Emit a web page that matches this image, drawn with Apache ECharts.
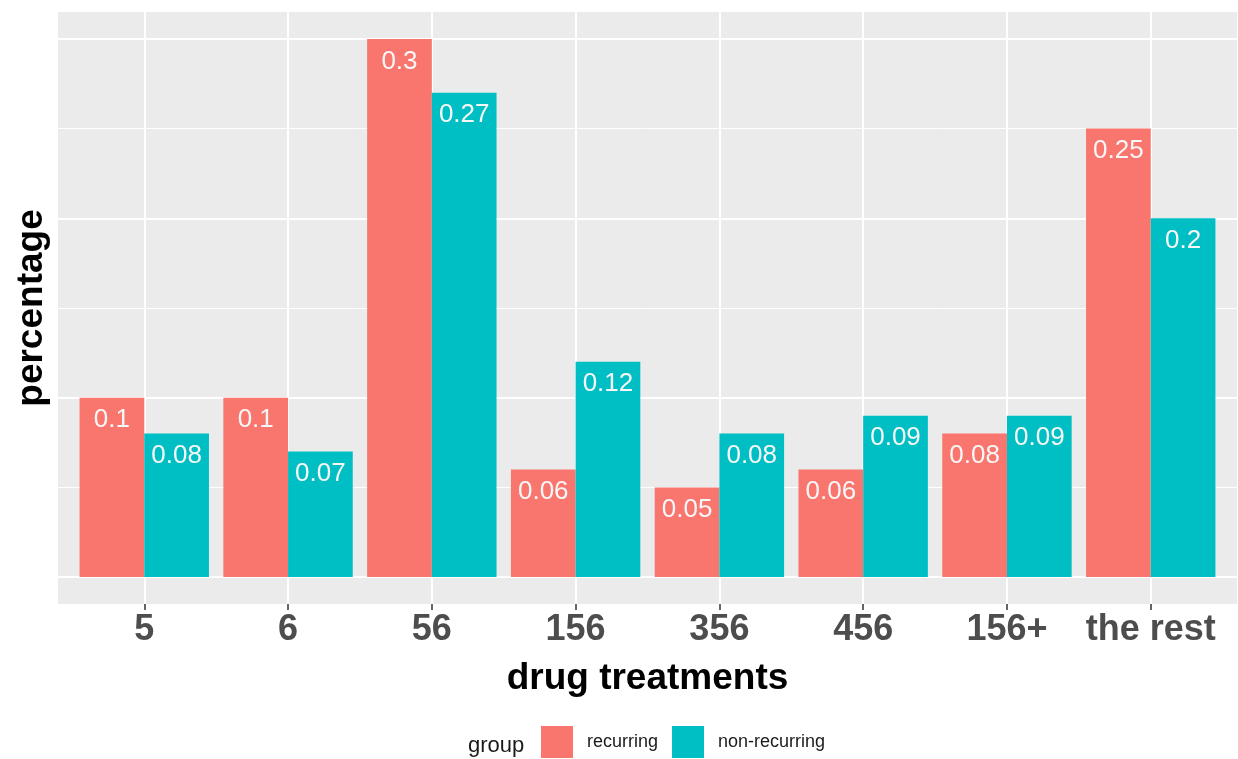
<!DOCTYPE html>
<html>
<head>
<meta charset="utf-8">
<script src="https://cdn.jsdelivr.net/npm/echarts@6/dist/echarts.min.js"></script>
<style>html,body{margin:0;padding:0;background:#fff;}#c{width:1238px;height:759px;}</style>
</head>
<body>
<div id="c"></div>
<script>
const categories = ['5', '6', '56', '156', '356', '456', '156+', 'the rest'];
const recurring = [0.1, 0.1, 0.3, 0.06, 0.05, 0.06, 0.08, 0.25];
const nonRecurring = [0.08, 0.07, 0.27, 0.12, 0.08, 0.09, 0.09, 0.2];
const seriesNames = ['recurring', 'non-recurring'];
const colors = ['#F8766D', '#00BFC4'];
const yMajorInterval = 0.1;
const yMax = 0.3;

// panel geometry (ggplot-style expansion)
const W = 1238, H = 759;
const pL = 58, pR = 1237, pT = 12, pB = 604;
const yLo = -0.015, yHi = 0.315;
const xLo = 0.4, xHi = categories.length + 0.6;
const Y = v => pT + (yHi - v) / (yHi - yLo) * (pB - pT);
const X = k => pL + (k - xLo) / (xHi - xLo) * (pR - pL);

const font = 'Liberation Sans, Arial, Helvetica, sans-serif';
const chart = echarts.init(document.getElementById('c'), null, {renderer: 'canvas'});
const hidden = {axisLine: {show: false, onZero: false}, axisTick: {show: false}, axisLabel: {show: false}, splitLine: {show: false}};

chart.setOption({
  animation: false,
  backgroundColor: '#ffffff',
  grid: [
    {left: pL, right: W - pR, top: pT, bottom: H - pB, show: true, backgroundColor: '#EBEBEB', borderWidth: 0},
    {left: pL, right: W - pR, top: Y(yMax), bottom: H - Y(0), show: false},
    {left: X(1), right: W - X(categories.length), top: pT, bottom: H - pB, show: false},
    {left: X(0.5), right: W - X(categories.length + 0.5), top: pT, bottom: H - pB, show: false}
  ],
  xAxis: [
    Object.assign({type: 'value', gridIndex: 0, min: 0, max: 1}, hidden),
    Object.assign({type: 'value', gridIndex: 1, min: 0, max: 1}, hidden),
    {type: 'value', gridIndex: 2, min: 1, max: categories.length, interval: 1,
      axisLine: {show: false, onZero: false}, axisTick: {show: false}, axisLabel: {show: false},
      splitLine: {show: true, lineStyle: {color: '#FFFFFF', width: 2}}},
    {type: 'category', gridIndex: 3, data: categories, position: 'bottom',
      axisLine: {show: false, onZero: false},
      axisTick: {show: true, alignWithLabel: true, length: 6, lineStyle: {color: '#333333', width: 1.5}},
      axisLabel: {fontSize: 36, fontWeight: 'bold', color: '#4D4D4D', fontFamily: font, margin: 8, interval: 0},
      splitLine: {show: false},
      name: 'drug treatments', nameLocation: 'middle', nameGap: 56,
      nameTextStyle: {fontSize: 37, fontWeight: 'bold', color: '#000000', fontFamily: font}}
  ],
  yAxis: [
    Object.assign({type: 'value', gridIndex: 0, min: 0, max: 1,
      name: 'percentage', nameLocation: 'middle', nameGap: 8, nameRotate: 90,
      nameTextStyle: {fontSize: 37, fontWeight: 'bold', color: '#000000', fontFamily: font}}, hidden),
    {type: 'value', gridIndex: 1, min: 0, max: yMax, interval: yMajorInterval,
      axisLine: {show: false, onZero: false}, axisTick: {show: false}, axisLabel: {show: false},
      splitLine: {show: true, lineStyle: {color: '#FFFFFF', width: 2}},
      minorTick: {show: false, splitNumber: 2},
      minorSplitLine: {show: true, lineStyle: {color: '#FFFFFF', width: 1}}},
    Object.assign({type: 'value', gridIndex: 2, min: 0, max: 1}, hidden),
    Object.assign({type: 'value', gridIndex: 3, min: yLo, max: yHi}, hidden)
  ],
  legend: {
    data: seriesNames, left: 541, top: 726, padding: 0, itemGap: 14,
    icon: 'rect', itemWidth: 32, itemHeight: 32,
    textStyle: {fontSize: 18, color: '#1a1a1a', fontFamily: font, padding: [12, 0, 0, 9]}
  },
  graphic: [{
    type: 'text', left: 468, top: 735,
    style: {text: 'group', fontSize: 22, fill: '#1a1a1a', fontFamily: font}
  }],
  series: [recurring, nonRecurring].map((d, i) => ({
    name: seriesNames[i], type: 'bar', xAxisIndex: 3, yAxisIndex: 3, data: d,
    barGap: '0%', barCategoryGap: '10%',
    itemStyle: {color: colors[i]},
    label: {show: true, position: 'insideTop', distance: 9.5, fontSize: 26, color: '#F7F7F7', fontFamily: font}
  }))
});
</script>
</body>
</html>
